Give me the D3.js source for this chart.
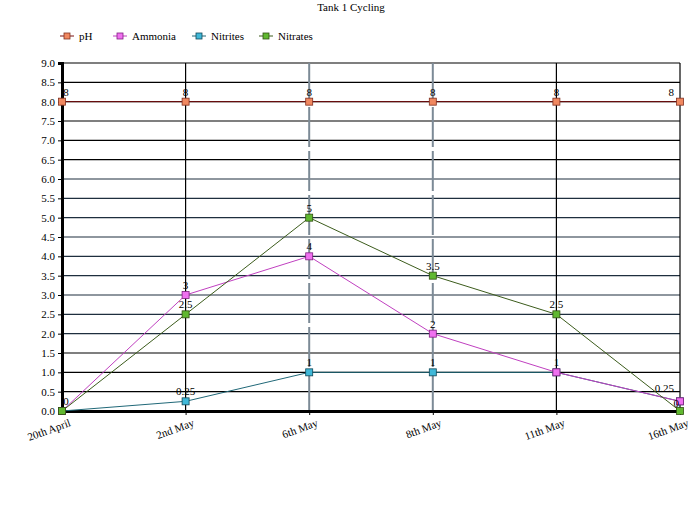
<!DOCTYPE html>
<html>
<head>
<meta charset="utf-8">
<script src="https://cdn.jsdelivr.net/npm/d3@7"></script>
<style>
  body { margin: 0; background: #fff; }
  svg, svg text { font-family: "Liberation Serif", "DejaVu Serif", serif; }
</style>
</head>
<body>
<div id="chart"></div>
<script>
    // chart data
    var dates = ['20th April', '2nd May', '6th May', '8th May', '11th May', '16th May'],
        ph = [8, 8, 8, 8, 8, 8],
        ammonia = [0, 3, 4, 2, 1, 0.25],
        nitrites = [0, 0.25, 1, 1, 1, 0.25],
        nitrates = [0, 2.5, 5, 3.5, 2.5, 0],
        yTicks = d3.range(0, 9.01, 0.5);

    const Width = 700, Height = 515,
        Left = 62, Right = 680, Top = 63, Bottom = 411;

    var series = [
        { name: 'pH', values: ph, line: '#7a1010', fill: '#f08860', edge: '#803020' },
        { name: 'Ammonia', values: ammonia, line: '#c040c0', fill: '#f070f0', edge: '#802080' },
        { name: 'Nitrites', values: nitrites, line: '#206878', fill: '#40b8d8', edge: '#104858' },
        { name: 'Nitrates', values: nitrates, line: '#3c5c1c', fill: '#60b830', edge: '#305010' }
    ];
    // drawing order, so the overlapping markers come out as in the picture
    var drawOrder = [0, 2, 1, 3];

    var svg = d3.select('#chart').append('svg')
        .attr('width', Width)
        .attr('height', Height);

    var x = d3.scalePoint().domain(dates).range([Left, Right]),
        y = d3.scaleLinear().domain([0, 9]).range([Bottom, Top]);

    // title
    svg.append('text')
        .attr('x', 351).attr('y', 11)
        .attr('text-anchor', 'middle')
        .style('font-size', '11px')
        .text('Tank 1 Cycling');

    // legend
    var legendX = [60, 113, 192, 259];
    var leg = svg.append('g').selectAll('g')
        .data(series).enter().append('g')
        .attr('transform', (d, i) => `translate(${legendX[i]},36)`);
    leg.append('line')
        .attr('x1', 0).attr('x2', 14)
        .attr('stroke', d => d.line).attr('stroke-width', 1);
    leg.append('rect')
        .attr('x', 4).attr('y', -3).attr('width', 6).attr('height', 6)
        .attr('fill', d => d.fill).attr('stroke', d => d.edge).attr('stroke-width', 0.8);
    leg.append('text')
        .attr('x', 19).attr('dy', '0.35em')
        .style('font-size', '11px')
        .text(d => d.name);

    // horizontal grid
    svg.append('g').selectAll('line')
        .data(yTicks.slice(1)).enter().append('line')
        .attr('x1', Left).attr('x2', Right)
        .attr('y1', d => y(d)).attr('y2', d => y(d))
        .attr('stroke', d => (d >= 2 && d <= 6) ? '#1e2e3e' : '#000')
        .attr('stroke-width', 1.2);

    // vertical grid
    var isGrey = i => i === 1 || i === 2;
    svg.append('g').selectAll('line')
        .data(dates.slice(1)).enter().append('line')
        .attr('x1', d => x(d)).attr('x2', d => x(d))
        .attr('y1', Top).attr('y2', Bottom)
        .attr('stroke', (d, i) => isGrey(i) ? '#7c8a96' : '#000')
        .attr('stroke-width', (d, i) => isGrey(i) ? 2 : 1.2)
        .attr('stroke-dasharray', (d, i) => isGrey(i) ? '40,4' : null);

    // y axis
    var yAxis = svg.append('g')
        .attr('transform', `translate(${Left},0)`)
        .call(d3.axisLeft(y).tickValues(yTicks).tickFormat(d3.format('.1f')).tickSize(4));
    yAxis.attr('font-family', null);
    yAxis.select('.domain').attr('stroke-width', 3);
    yAxis.selectAll('text').style('font-size', '11px');

    // x axis
    var xAxis = svg.append('g')
        .attr('transform', `translate(0,${Bottom})`)
        .call(d3.axisBottom(x).tickSize(4).tickSizeOuter(0));
    xAxis.attr('font-family', null);
    xAxis.select('.domain').attr('stroke-width', 3);
    xAxis.selectAll('text')
        .style('font-size', '11px')
        .attr('text-anchor', 'end')
        .attr('dx', '0.3em')
        .attr('dy', '0.9em')
        .attr('transform', 'rotate(-20)');

    // series
    var line = d3.line().x((d, i) => x(dates[i])).y(d => y(d));
    var groups = svg.append('g').selectAll('g')
        .data(drawOrder.map(i => series[i])).enter().append('g');

    groups.append('path')
        .attr('d', d => line(d.values))
        .attr('fill', 'none')
        .attr('stroke', d => d.line)
        .attr('stroke-width', 1);

    groups.selectAll('rect')
        .data(d => d.values.map((v, i) => ({ v: v, i: i, s: d })))
        .enter().append('rect')
        .attr('x', d => x(dates[d.i]) - 3.5)
        .attr('y', d => y(d.v) - 3.5)
        .attr('width', 7).attr('height', 7)
        .attr('fill', d => d.s.fill)
        .attr('stroke', d => d.s.edge)
        .attr('stroke-width', 0.8);

    // value labels: one label per distinct point (coinciding points share it)
    var seen = {}, labels = [];
    series.forEach(s => s.values.forEach((v, i) => {
        var key = i + ':' + v;
        if (!seen[key]) { seen[key] = true; labels.push({ v: v, i: i }); }
    }));
    var last = dates.length - 1;
    svg.append('g').selectAll('text')
        .data(labels).enter().append('text')
        .attr('x', d => d.i === last ? Right - (d.v === 0 ? 1 : 6)
            : Math.max(Left + 4, x(dates[d.i])))
        .attr('y', d => d.i === last && d.v < 1 ? y(d.v) - (d.v === 0 ? 4 : 9) : y(d.v) - 6)
        .attr('text-anchor', d => d.i === last ? 'end' : 'middle')
        .style('font-size', '11px')
        .text(d => d.v);
</script>
</body>
</html>
